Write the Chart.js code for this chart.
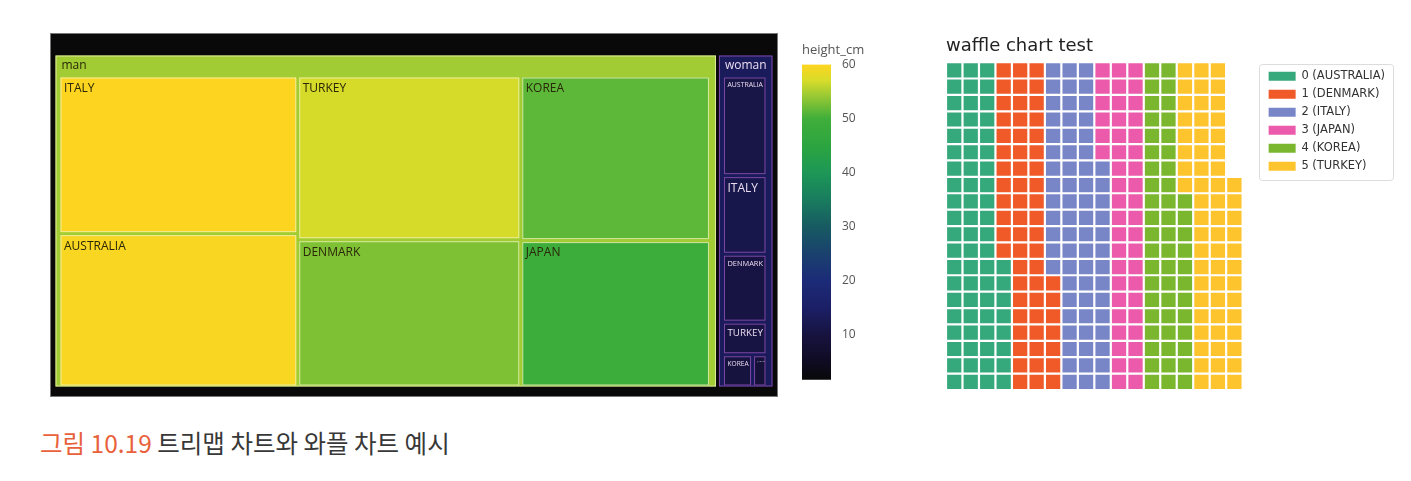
<!DOCTYPE html>
<html>
<head>
<meta charset="utf-8">
<script src="https://cdn.jsdelivr.net/npm/chart.js@4.4.0/dist/chart.umd.min.js"></script>
<style>
  body { margin: 0; background: #fff; width: 1411px; height: 481px; position: relative; overflow: hidden; }
  canvas { position: absolute; }
  #caption { position: absolute; left: 40px; top: 428px; font-family: "Noto Sans CJK KR"; font-size: 24.5px; line-height: 30px; color: #383838; white-space: nowrap; }
  #caption .fig { color: #e8613a; }
</style>
</head>
<body>
<canvas id="treemap" width="728" height="364" style="left:50px;top:33px"></canvas>
<canvas id="colorbar" width="80" height="352" style="left:795px;top:38px"></canvas>
<canvas id="waffle" width="457" height="362" style="left:938px;top:30px"></canvas>
<div id="caption"><span class="fig">그림 10.19</span> 트리맵 차트와 와플 차트 예시</div>
<script>
// categories
const countries = ['AUSTRALIA', 'DENMARK', 'ITALY', 'JAPAN', 'KOREA', 'TURKEY'];
const genders = ['man', 'woman'];

// treemap: tile size and colour value (height_cm), per country
const manSize = [36.0, 32.3, 37.0, 27.3, 30.7, 35.9];
const womanSize = [5.44, 3.71, 4.29, 0.57, 1.19, 1.78];
const manHeight = [59.6, 53.0, 60.0, 49.0, 51.4, 57.0];
const womanHeight = [11.0, 10.5, 11.5, 9.0, 10.0, 10.5];
const genderHeight = [54.6, 13.5];

// colour bar
const colorTicks = [10, 20, 30, 40, 50, 60];
const colorMin = 1.7;
const colorMax = 60;

// waffle chart
const waffleCounts = [68, 59, 67, 46, 52, 61];
const waffleRows = 20;
const waffleColors = ['#36a97c', '#f05a29', '#7886c8', '#ec5aab', '#7ab72e', '#fec42e'];

// colour scale (black -> blue -> green -> yellow)
const scaleStops = [
    [0, '#080808'], [0.057, '#0f0b22'], [0.142, '#17133f'], [0.228, '#1b1f66'],
    [0.314, '#1c2b78'], [0.40, '#1a416e'], [0.485, '#175a62'], [0.571, '#197c5e'],
    [0.657, '#1d9756'], [0.743, '#2ca540'], [0.829, '#40ae3a'], [0.906, '#a0cb33'],
    [0.95, '#d8dc2a'], [1, '#fdd520']
];

function hexToRgb(h) {
    const n = parseInt(h.slice(1), 16);
    return [(n >> 16) & 255, (n >> 8) & 255, n & 255];
}

function colorFor(v) {
    const t = Math.min(1, Math.max(0, (v - colorMin) / (colorMax - colorMin)));
    for (let i = 1; i < scaleStops.length; i++) {
        if (t <= scaleStops[i][0]) {
            const [t0, c0] = scaleStops[i - 1];
            const [t1, c1] = scaleStops[i];
            const f = (t - t0) / (t1 - t0);
            const a = hexToRgb(c0), b = hexToRgb(c1);
            return a.map((c, k) => Math.round(c + (b[k] - c) * f));
        }
    }
    return hexToRgb(scaleStops[scaleStops.length - 1][1]);
}

// ---------- treemap ----------
const TM_W = 728, TM_H = 364;
const rootPad = {t: 21, l: 4, r: 4, b: 9};
const genderPad = {t: 22, l: 5, r: 7, b: 1};
const gap = 1.5;
const treeLine = ['rgba(236,242,178,0.85)', '#7d48a8'];

function buildTree() {
    return genders.map((g, gi) => {
        const sizes = gi === 0 ? manSize : womanSize;
        const heights = gi === 0 ? manHeight : womanHeight;
        const children = countries.map((c, i) => ({label: c, value: sizes[i], color: heights[i]}));
        return {label: g, value: children.reduce((s, d) => s + d.value, 0), color: genderHeight[gi], gi, children};
    });
}

// squarified layout (same steps as d3 treemapSquarify, ratio 1)
function squarify(nodes, rect) {
    let [x0, y0, x1, y1] = rect;
    let total = nodes.reduce((s, d) => s + d.value, 0);
    const n = nodes.length;
    let i0 = 0;
    while (i0 < n) {
        const dx = x1 - x0, dy = y1 - y0;
        let i1 = i0;
        let sum = nodes[i1++].value;
        let minV = sum, maxV = sum;
        const alpha = Math.max(dy / dx, dx / dy) / total;
        let beta = sum * sum * alpha;
        let minRatio = Math.max(maxV / beta, beta / minV);
        for (; i1 < n; i1++) {
            const v = nodes[i1].value;
            sum += v;
            if (v < minV) minV = v;
            if (v > maxV) maxV = v;
            beta = sum * sum * alpha;
            const r = Math.max(maxV / beta, beta / minV);
            if (r > minRatio) { sum -= v; break; }
            minRatio = r;
        }
        const row = nodes.slice(i0, i1);
        if (dx < dy) {
            const h = i1 < n ? dy * sum / total : dy;
            let x = x0;
            row.forEach(d => { const w = dx * d.value / sum; d.rect = [x, y0, x + w, y0 + h]; x += w; });
            y0 += h;
        } else {
            const w = i1 < n ? dx * sum / total : dx;
            let y = y0;
            row.forEach(d => { const h = dy * d.value / sum; d.rect = [x0, y, x0 + w, y + h]; y += h; });
            x0 += w;
        }
        total -= sum;
        i0 = i1;
    }
}

const sortDesc = arr => arr.slice().sort((a, b) => b.value - a.value);
const inner = (r, p) => [r[0] + p.l, r[1] + p.t, r[2] - p.r, r[3] - p.b];

const tree = buildTree();
const rootRect = [0, 0, TM_W, TM_H];
squarify(sortDesc(tree), inner(rootRect, rootPad));
tree.forEach(g => squarify(sortDesc(g.children), inner(g.rect, genderPad)));

const treemapPainter = {
    id: 'treemapPainter',
    afterDatasetsDraw(chart) {
        const {ctx, scales: {x, y}} = chart;
        const box = (r, inset) => {
            const x0 = x.getPixelForValue(r[0] + inset), x1 = x.getPixelForValue(r[2] - inset);
            const y0 = y.getPixelForValue(r[1] + inset), y1 = y.getPixelForValue(r[3] - inset);
            return {x: x0, y: y0, w: x1 - x0, h: y1 - y0};
        };
        const textColor = rgb => (0.299 * rgb[0] + 0.587 * rgb[1] + 0.114 * rgb[2] > 110 ? '#2a2608' : '#ecdcf0');
        const label = (text, b, rgb, base) => {
            ctx.font = base + 'px "Open Sans"';
            const maxW = b.w - 6;
            const tw = ctx.measureText(text).width;
            const size = tw > maxW ? Math.max(2.5, base * maxW / tw) : base;
            ctx.font = size + 'px "Open Sans"';
            ctx.fillStyle = textColor(rgb);
            ctx.textBaseline = 'middle';
            ctx.textAlign = 'left';
            ctx.fillText(text, b.x + 3.5, b.y + 4 + size * 0.58);
        };

        ctx.save();
        // root frame
        const rb = box(rootRect, 0);
        ctx.fillStyle = '#090909';
        ctx.fillRect(rb.x, rb.y, rb.w, rb.h);
        ctx.strokeStyle = '#777';
        ctx.lineWidth = 1;
        ctx.strokeRect(rb.x + 0.5, rb.y + 0.5, rb.w - 1, rb.h - 1);

        tree.forEach(g => {
            const gb = box(g.rect, gap);
            const grgb = colorFor(g.color);
            ctx.fillStyle = `rgb(${grgb.join(',')})`;
            ctx.fillRect(gb.x, gb.y, gb.w, gb.h);
            ctx.strokeStyle = treeLine[g.gi];
            ctx.lineWidth = 1;
            ctx.strokeRect(gb.x + 0.5, gb.y + 0.5, gb.w - 1, gb.h - 1);
            ctx.font = '12px "Open Sans"';
            ctx.fillStyle = textColor(grgb);
            ctx.textBaseline = 'middle';
            ctx.fillText(g.label, gb.x + 6, gb.y + 10);

            g.children.forEach(c => {
                const cb = box(c.rect, gap);
                const crgb = colorFor(c.color);
                ctx.fillStyle = `rgb(${crgb.join(',')})`;
                ctx.fillRect(cb.x, cb.y, cb.w, cb.h);
                ctx.strokeStyle = treeLine[g.gi];
                ctx.strokeRect(cb.x + 0.5, cb.y + 0.5, cb.w - 1, cb.h - 1);
                label(c.label, cb, crgb, 12);
            });
        });
        ctx.restore();
    }
};

new Chart(document.getElementById('treemap'), {
    type: 'scatter',
    data: {datasets: [{data: []}]},
    options: {
        responsive: false,
        animation: false,
        layout: {padding: 0},
        plugins: {legend: {display: false}, tooltip: {enabled: false}},
        scales: {
            x: {type: 'linear', min: 0, max: TM_W, display: false},
            y: {type: 'linear', min: 0, max: TM_H, reverse: true, display: false}
        }
    },
    plugins: [treemapPainter]
});

// ---------- colour bar ----------
new Chart(document.getElementById('colorbar'), {
    type: 'bar',
    data: {
        labels: ['height_cm'],
        datasets: [{
            data: [[colorMin, colorMax]],
            backgroundColor: (c) => {
                const {ctx, chartArea, scales} = c.chart;
                if (!chartArea) return null;
                const g = ctx.createLinearGradient(0, scales.y.getPixelForValue(colorMin), 0, scales.y.getPixelForValue(colorMax));
                scaleStops.forEach(([t, col]) => g.addColorStop(t, col));
                return g;
            },
            borderWidth: 0,
            barPercentage: 1,
            categoryPercentage: 1
        }]
    },
    options: {
        responsive: false,
        animation: false,
        layout: {padding: {left: 7, right: 4, top: 0, bottom: 2}},
        plugins: {
            legend: {display: false},
            tooltip: {enabled: false},
            title: {
                display: true, text: 'height_cm', align: 'start', color: '#555',
                font: {family: 'Open Sans', size: 13, weight: 'normal'},
                padding: {top: 4, bottom: 7}
            }
        },
        scales: {
            x: {display: false},
            y: {
                position: 'right', min: colorMin, max: colorMax,
                grid: {display: false}, border: {display: false},
                ticks: {color: '#555', font: {family: 'Open Sans', size: 12}, padding: 3},
                afterBuildTicks: s => { s.ticks = colorTicks.map(v => ({value: v})); },
                afterFit: s => { s.width = 40; }
            }
        }
    }
});

// ---------- waffle ----------
const waffleCols = Math.ceil(waffleCounts.reduce((s, v) => s + v, 0) / waffleRows);
const waffleLabels = Array.from({length: waffleCols}, (_, i) => i + 1);
// fill cells column by column, bottom to top
const columnData = countries.map(() => new Array(waffleCols).fill(0));
let cell = 0;
waffleCounts.forEach((n, k) => {
    for (let i = 0; i < n; i++) {
        columnData[k][Math.floor(cell / waffleRows)]++;
        cell++;
    }
});

// white gaps between the waffle cells, on the scale boundaries
const cellGaps = {
    id: 'cellGaps',
    afterDatasetsDraw(chart) {
        const {ctx, chartArea: a, scales: {x, y}} = chart;
        ctx.save();
        ctx.strokeStyle = '#fff';
        ctx.lineWidth = 2.2;
        ctx.beginPath();
        for (let i = 0; i <= waffleCols; i++) {
            const px = x.getPixelForValue(i - 0.5);
            ctx.moveTo(px, a.top - 2);
            ctx.lineTo(px, a.bottom + 2);
        }
        for (let j = 0; j <= waffleRows; j++) {
            const py = y.getPixelForValue(j);
            ctx.moveTo(a.left - 2, py);
            ctx.lineTo(a.right + 2, py);
        }
        ctx.stroke();
        ctx.restore();
    }
};

// move the legend a little away from the grid, like matplotlib's bbox anchor
const legendShift = {
    id: 'legendShift',
    afterLayout(chart) {
        const lg = chart.legend;
        lg.left += 19.5;
        lg.right += 19.5;
        lg.top += 2;
        lg.bottom += 2;
    }
};

const legendFrame = {
    id: 'legendFrame',
    afterDraw(chart) {
        const boxes = chart.legend.legendHitBoxes;
        if (!boxes || !boxes.length) return;
        const ctx = chart.ctx;
        const left = boxes[0].left - 10;
        const top = boxes[0].top - 7;
        const right = Math.max(...boxes.map(b => b.left + b.width)) + 8;
        const last = boxes[boxes.length - 1];
        const bottom = last.top + last.height + 7;
        ctx.save();
        ctx.strokeStyle = '#dcdcdc';
        ctx.lineWidth = 1;
        ctx.beginPath();
        ctx.roundRect(Math.round(left) + 0.5, Math.round(top) + 0.5, Math.round(right - left), Math.round(bottom - top), 3);
        ctx.stroke();
        ctx.restore();
    }
};

new Chart(document.getElementById('waffle'), {
    type: 'bar',
    data: {
        labels: waffleLabels,
        datasets: countries.map((c, k) => ({
            label: `${k} (${c})`,
            data: columnData[k],
            backgroundColor: waffleColors[k],
            borderWidth: 0,
            barPercentage: 1,
            categoryPercentage: 1
        }))
    },
    options: {
        responsive: false,
        animation: false,
        layout: {padding: {left: 8, right: 19.5, top: 0, bottom: 2}},
        plugins: {
            title: {
                display: true, text: 'waffle chart test', align: 'start', color: '#222',
                font: {family: 'DejaVu Sans', size: 18, weight: 'normal'},
                padding: {top: 6, bottom: 4.5}
            },
            legend: {
                position: 'right', align: 'start', fullSize: false,
                labels: {boxWidth: 27, boxHeight: 9, padding: 6.5, color: '#333', font: {family: 'DejaVu Sans', size: 11.5}}
            },
            tooltip: {enabled: false}
        },
        scales: {
            x: {stacked: true, display: false},
            y: {stacked: true, min: 0, max: waffleRows, display: false}
        }
    },
    plugins: [cellGaps, legendShift, legendFrame]
});
</script>
</body>
</html>
